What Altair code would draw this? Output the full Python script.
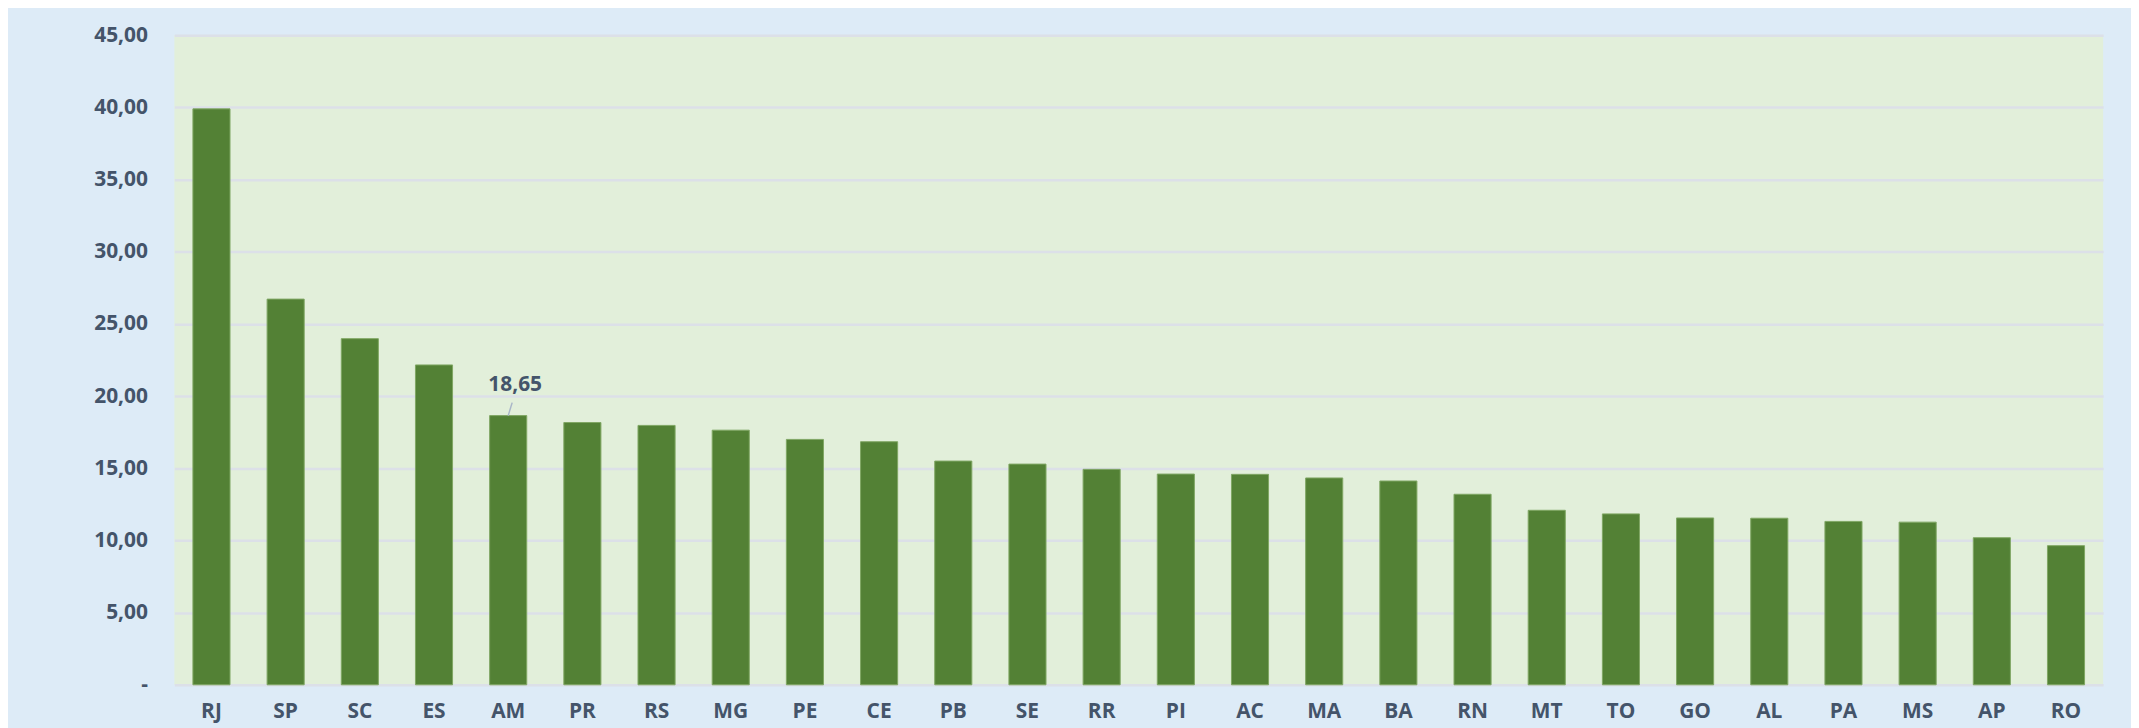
import altair as alt
import pandas as pd

states = ["RJ", "SP", "SC", "ES", "AM", "PR", "RS", "MG", "PE", "CE", "PB", "SE", "RR",
          "PI", "AC", "MA", "BA", "RN", "MT", "TO", "GO", "AL", "PA", "MS", "AP", "RO"]
values = [39.90, 26.72, 23.98, 22.16, 18.65, 18.17, 17.97, 17.64, 17.00, 16.84, 15.50, 15.29, 14.93,
          14.60, 14.58, 14.33, 14.12, 13.20, 12.09, 11.84, 11.56, 11.54, 11.32, 11.27, 10.19, 9.64]
label_state = ["AM"]
label_value = [18.65]
label_text = ["18,65"]

df = pd.DataFrame({"uf": states, "v": values})
lab = pd.DataFrame({"uf": label_state, "v": label_value, "t": label_text,
                    "top": [label_value[0] + 0.9]})

FONT = "Open Sans"
TXT = "#44546A"
FS = 21

x = alt.X("uf:N", sort=states, title=None,
          scale=alt.Scale(paddingInner=0.5, paddingOuter=0.25),
          axis=alt.Axis(labelAngle=0, labelFont=FONT, labelFontWeight="bold", labelFontSize=FS,
                        labelColor=TXT, ticks=False, domain=False, labelPadding=16,
                        grid=False))
y = alt.Y("v:Q", title=None,
          scale=alt.Scale(domain=[0, 45], nice=False),
          axis=alt.Axis(values=[0, 5, 10, 15, 20, 25, 30, 35, 40, 45],
                        labelExpr="datum.value == 0 ? '-\u00a0\u00a0\u00a0' : replace(format(datum.value, '.2f'), '.', ',')",
                        labelFont=FONT, labelFontWeight="bold", labelFontSize=FS, labelColor=TXT,
                        ticks=False, domain=False, labelPadding=27,
                        grid=True, gridColor="#DCE0E8", gridWidth=2.5))

bars = alt.Chart(df).mark_bar(color="#538135", stroke="#7FA763", strokeWidth=1).encode(x=x, y=y)

leader = alt.Chart(lab).mark_rule(color="#A9B6C8", strokeWidth=1.5, x2Offset=4).encode(
    x=alt.X("uf:N", sort=states, bandPosition=0.5),
    x2=alt.X2("uf"),
    y=alt.Y("v:Q"),
    y2=alt.Y2("top"),
)

text = alt.Chart(lab).mark_text(font=FONT, fontWeight="bold", fontSize=FS, color=TXT,
                                dx=7, dy=-31, baseline="middle", align="center").encode(
    x=alt.X("uf:N", sort=states), y=alt.Y("v:Q"), text="t:N")

chart = alt.layer(bars, leader, text).properties(
    width=1936, height=652,
    background="#DDEBF7",
    padding={"left": 167, "top": 26, "right": 28, "bottom": 42},
    autosize=alt.AutoSizeParams(type="none"),
).configure_view(fill="#E2EFDA", stroke=None)

chart.save("out.html", embed_options={"renderer": "svg", "actions": False})
